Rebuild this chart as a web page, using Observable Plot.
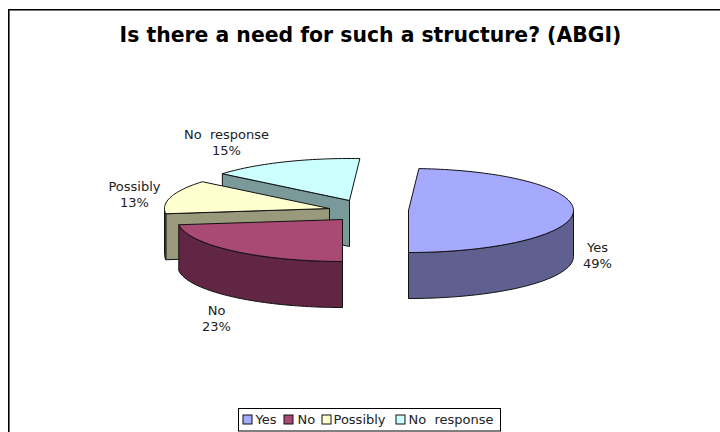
<!DOCTYPE html>
<html>
<head>
<meta charset="utf-8">
<script src="https://cdn.jsdelivr.net/npm/d3@7"></script>
<script src="https://cdn.jsdelivr.net/npm/@observablehq/plot@0.6"></script>
<style>
  html, body { margin: 0; padding: 0; background: #fff; }
  svg text { white-space: pre; }
</style>
</head>
<body>
<div id="chart"></div>
<script>
// Survey answers
const categories = ["Yes", "No", "Possibly", "No  response"];
const shares = [49, 23, 13, 15];

// Slice colours
const topColors = ["#a6aaff", "#a94a75", "#ffffd0", "#ccffff"];
const sideColors = ["#5f6090", "#602644", "#99997c", "#7a9999"];

// Pie layout: exploded slice centres, ellipse radii, extrusion depth, rotation
const centers = [[408, 210], [342, 219], [329, 208], [349, 200]];
const rx = 165, ry = 42, depth = 46, firstSliceDeg = 3.6;

// Label and legend layout
const labelSpots = [[597, 240], [216, 303], [134, 179], [226, 127]];
const legendSwatchX = [243, 284, 322, 396];
const legendTextX = [255, 297, 333, 408];

const rad = d => d * Math.PI / 180;
const arcs = d3.pie().sort(null).value(d => d)
  .startAngle(rad(firstSliceDeg)).endAngle(rad(firstSliceDeg + 360))(shares);

const rim = (c, a, drop = 0) => ({
  x: c[0] + rx * Math.sin(a),
  y: c[1] - ry * Math.cos(a) + drop
});
const sweep = (c, a0, a1, drop = 0) => {
  const n = Math.max(2, Math.ceil(Math.abs(a1 - a0) / rad(1.5)));
  return d3.range(n + 1).map(i => rim(c, a0 + (a1 - a0) * i / n, drop));
};

// Faces of one slice in painting order: cut walls, outer wall, top
function sliceMarks(i) {
  const c = centers[i], { startAngle: a0, endAngle: a1 } = arcs[i];
  const outline = { x: "x", y: "y", stroke: "#111", strokeWidth: 1, strokeLinejoin: "round", curve: "linear" };
  const marks = [];
  const apex = { x: c[0], y: c[1] };
  const apexLow = { x: c[0], y: c[1] + depth };
  const cutWall = a => Plot.line(
    [apex, rim(c, a), rim(c, a, depth), apexLow, apex],
    { ...outline, fill: sideColors[i] }
  );
  if (a0 > Math.PI + 1e-6 && a0 < 2 * Math.PI) marks.push(cutWall(a0));
  if (a1 > 0 && a1 < Math.PI - 1e-6) marks.push(cutWall(a1));
  const from = Math.max(a0, Math.PI / 2), to = Math.min(a1, 3 * Math.PI / 2);
  if (to > from) {
    const wall = [...sweep(c, from, to), ...sweep(c, to, from, depth)];
    wall.push(wall[0]);
    marks.push(Plot.line(wall, { ...outline, fill: sideColors[i] }));
  }
  const top = [apex, ...sweep(c, a0, a1), apex];
  marks.push(Plot.line(top, { ...outline, fill: topColors[i] }));
  return marks;
}

const labels = categories.map((name, i) => ({
  x: labelSpots[i][0], y: labelSpots[i][1], text: `${name}\n${shares[i]}%`
}));
const legendRows = categories.map((name, i) => ({
  name, fill: topColors[i], x1: legendSwatchX[i], x2: legendSwatchX[i] + 9, tx: legendTextX[i]
}));

const chart = Plot.plot({
  width: 720,
  height: 432,
  margin: 0,
  x: { domain: [0, 720], range: [0, 720], axis: null },
  y: { domain: [0, 432], range: [0, 432], axis: null },
  style: { fontFamily: "'DejaVu Sans', sans-serif", background: "#fff", overflow: "hidden" },
  marks: [
    // Chart frame, open at the right and bottom
    Plot.ruleY([10], { x1: 8, x2: 720, stroke: "#777", strokeWidth: 1 }),
    Plot.ruleY([9], { x1: 8, x2: 720, stroke: "#000", strokeWidth: 1 }),
    Plot.ruleX([8], { y1: 9, y2: 432, stroke: "#000", strokeWidth: 1 }),
    Plot.ruleX([9], { y1: 10, y2: 432, stroke: "#666", strokeWidth: 1 }),

    Plot.text(["Is there a need for such a structure? (ABGI)"], {
      x: () => 370, y: () => 35, text: d => d,
      fontSize: 20.4, fontWeight: "bold", fill: "#000"
    }),

    // Back to front: No response, Possibly, No, then the detached Yes slice
    ...sliceMarks(3), ...sliceMarks(2), ...sliceMarks(1), ...sliceMarks(0),

    Plot.text(labels, {
      x: "x", y: "y", text: "text", lineAnchor: "top", lineHeight: 1.25,
      fontSize: 13, fill: "#222"
    }),

    // Legend
    Plot.rect([0], { x1: () => 238.5, x2: () => 500.5, y1: () => 408.5, y2: () => 431, fill: "#fff", stroke: "#000" }),
    Plot.rect(legendRows, { x1: "x1", x2: "x2", y1: () => 415, y2: () => 424, fill: "fill", stroke: "#111" }),
    Plot.text(legendRows, { x: "tx", y: () => 419, text: "name", textAnchor: "start", fontSize: 13, fill: "#222" })
  ]
});
document.getElementById("chart").append(chart);
</script>
</body>
</html>
